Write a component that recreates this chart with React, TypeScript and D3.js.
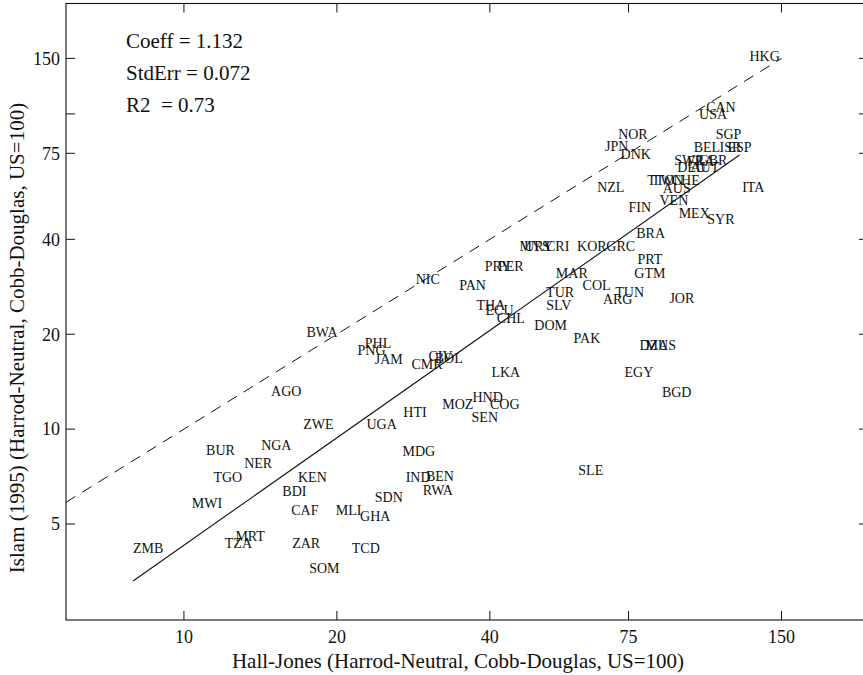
import React from "react";
import * as d3 from "d3";

// country codes with Hall-Jones (x) and Islam 1995 (y) productivity, US=100
const codes = [
  "HKG", "CAN", "USA", "NOR", "JPN", "DNK", "SGP", "BEL", "ISR", "ESP",
  "SWE", "FRA", "GBR", "DEU", "AUT", "TTO", "TWN", "CHE", "NZL", "AUS",
  "ITA", "FIN", "VEN", "MEX", "SYR", "BRA", "MYS", "URY", "CRI", "KOR",
  "GRC", "PRT", "GTM", "PRY", "PER", "NIC", "PAN", "MAR", "COL", "TUR",
  "SLV", "TUN", "ARG", "JOR", "THA", "ECU", "CHL", "DOM", "PAK", "DZA",
  "MUS", "BWA", "PHL", "PNG", "JAM", "CMR", "CIV", "BOL", "LKA", "EGY",
  "BGD", "AGO", "ZWE", "UGA", "HTI", "HND", "MOZ", "COG", "SEN", "BUR",
  "NGA", "NER", "TGO", "KEN", "BDI", "MWI", "CAF", "MLI", "GHA", "SDN",
  "MDG", "IND", "BEN", "RWA", "SLE", "MRT", "TZA", "ZMB", "ZAR", "TCD",
  "SOM",
];

const hallJones = [
  139, 114, 110, 76.5, 71.1, 77.5, 118, 107, 119, 124,
  98.6, 104, 110, 99.8, 106, 86.8, 89.6, 97.2, 69.2, 93.3,
  132, 78.9, 92.1, 101, 114, 82.9, 49.0, 49.9, 54.4, 63.5,
  72.4, 82.6, 82.6, 41.5, 44.0, 30.2, 37.0, 58.0, 64.9, 55.0,
  54.7, 75.4, 71.4, 95.5, 40.2, 41.8, 44.0, 52.7, 62.1, 84.1,
  86.8, 18.7, 24.1, 23.4, 25.3, 30.1, 32.0, 33.2, 43.0, 78.6,
  93.3, 15.9, 18.4, 24.5, 28.5, 39.6, 34.6, 42.8, 39.1, 11.8,
  15.2, 14.0, 12.2, 17.9, 16.5, 11.1, 17.3, 21.1, 23.8, 25.3,
  29.0, 28.9, 31.9, 31.6, 63.2, 13.5, 12.8, 8.5, 17.4, 22.8,
  18.9,
];

const islam = [
  153, 105, 100, 86, 78.8, 74.4, 86, 78.3, 78.3, 78.3,
  71.2, 70.7, 71.2, 67.7, 67.7, 61.5, 61.5, 61.5, 58.4, 58.0,
  58.4, 50.5, 53.2, 48.4, 46.3, 41.8, 38.0, 38.0, 38.0, 38.0,
  38.0, 34.6, 31.2, 32.9, 32.9, 29.9, 28.6, 31.2, 28.6, 27.2,
  24.7, 27.2, 25.8, 26.0, 24.7, 23.8, 22.5, 21.4, 19.4, 18.5,
  18.5, 20.3, 18.7, 17.8, 16.7, 16.1, 17.0, 16.8, 15.2, 15.2,
  13.1, 13.2, 10.4, 10.4, 11.3, 12.6, 12.0, 12.0, 10.9, 8.58,
  8.90, 7.80, 7.05, 7.05, 6.36, 5.83, 5.53, 5.53, 5.30, 6.09,
  8.52, 7.05, 7.10, 6.41, 7.41, 4.58, 4.35, 4.20, 4.35, 4.20,
  3.63,
];

const xTicks = [10, 20, 40, 75, 150];
const yTicks = [5, 10, 20, 40, 75, 150];
const yExtraTicks = [100];

const statLines = ["Coeff = 1.132", "StdErr = 0.072", "R2  = 0.73"];

// fitted log-log line: islam = fitScale * hj ^ fitSlope
const fitSlope = 1.132;
const fitScale = 0.316;
const fitRange = [7.94, 124];
const diagonalRange = [5.86, 150];

const width = 863;
const height = 675;
const left = 66;
const right = 868;
const top = 3.5;
const bottom = 620;
const font = "'Liberation Serif', 'DejaVu Serif', serif";

export default function App() {
  const x = d3.scaleLog().domain([5.86, 222]).range([left, right]);
  const y = d3.scaleLog().domain([2.48, 224]).range([bottom, top]);

  const line = d3
    .line<[number, number]>()
    .x((d) => x(d[0]))
    .y((d) => y(d[1]));

  const fitPts: [number, number][] = fitRange.map((v) => [v, fitScale * Math.pow(v, fitSlope)]);
  const diagPts: [number, number][] = diagonalRange.map((v) => [v, v]);

  return (
    <svg
      width={width}
      height={height}
      style={{ position: "absolute", left: 0, top: 0, background: "#fff" }}
      fontFamily={font}
    >
      <rect x={0} y={0} width={width} height={height} fill="#fff" />
      <rect
        x={left}
        y={top}
        width={right - left}
        height={bottom - top}
        fill="none"
        stroke="#111"
        strokeWidth={1.1}
      />

      {xTicks.map((t) => (
        <g key={"x" + t}>
          <line x1={x(t)} x2={x(t)} y1={bottom} y2={bottom - 9} stroke="#111" />
          <line x1={x(t)} x2={x(t)} y1={top} y2={top + 9} stroke="#111" />
          <text x={x(t)} y={643} textAnchor="middle" fontSize={18} fill="#111">
            {t}
          </text>
        </g>
      ))}

      {yTicks.concat(yExtraTicks).map((t) => (
        <g key={"y" + t}>
          <line x1={left} x2={left + 9} y1={y(t)} y2={y(t)} stroke="#111" />
          <line x1={right} x2={right - 9} y1={y(t)} y2={y(t)} stroke="#111" />
        </g>
      ))}
      {yTicks.map((t) => (
        <text
          key={"yl" + t}
          x={60}
          y={y(t)}
          dy="0.35em"
          textAnchor="end"
          fontSize={18}
          fill="#111"
        >
          {t}
        </text>
      ))}

      <path d={line(diagPts) || ""} fill="none" stroke="#111" strokeWidth={1} strokeDasharray="11 8" />
      <path d={line(fitPts) || ""} fill="none" stroke="#111" strokeWidth={1.1} />

      {codes.map((c, i) => (
        <text
          key={c}
          x={x(hallJones[i])}
          y={y(islam[i])}
          dy="0.35em"
          textAnchor="middle"
          fontSize={14}
          fill="#111"
        >
          {c}
        </text>
      ))}

      {statLines.map((s, i) => (
        <text
          key={s}
          x={126}
          y={48 + i * 32}
          fontSize={21}
          fill="#111"
          style={{ whiteSpace: "pre" }}
        >
          {s}
        </text>
      ))}

      <text x={458} y={668} textAnchor="middle" fontSize={21} fill="#111">
        Hall-Jones (Harrod-Neutral, Cobb-Douglas, US=100)
      </text>
      <text
        transform={`translate(24, 338) rotate(-90)`}
        textAnchor="middle"
        fontSize={21}
        fill="#111"
      >
        Islam (1995) (Harrod-Neutral, Cobb-Douglas, US=100)
      </text>
    </svg>
  );
}
